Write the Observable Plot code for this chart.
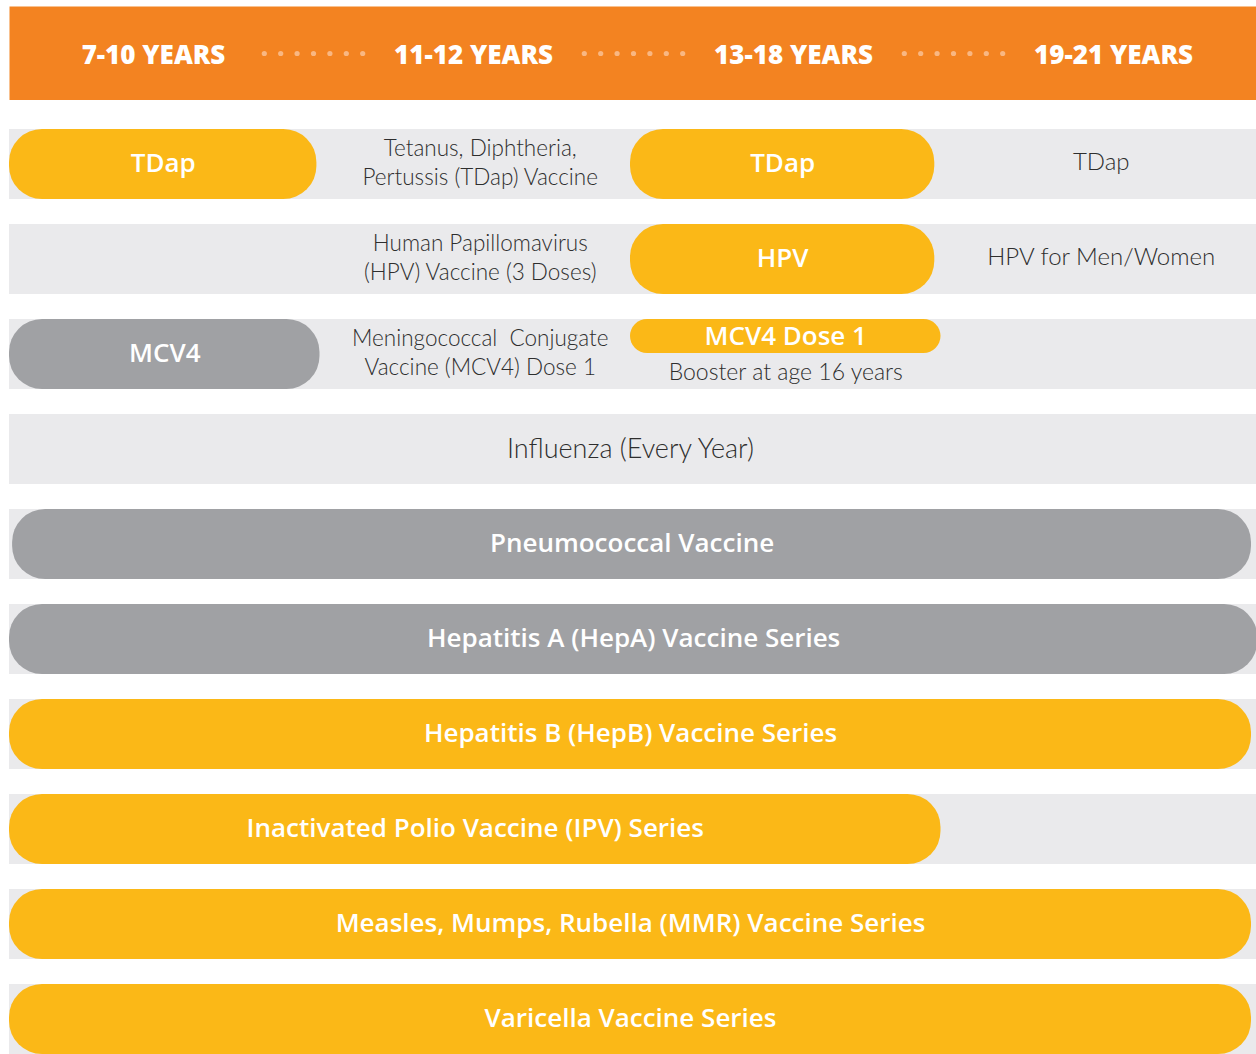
<!DOCTYPE html>
<html>
<head>
<meta charset="utf-8">
<script src="https://cdn.jsdelivr.net/npm/d3@7"></script>
<script src="https://cdn.jsdelivr.net/npm/@observablehq/plot@0.6"></script>
<style>
  html, body { margin: 0; padding: 0; background: #fff; }
  #chart svg { display: block; }
</style>
</head>
<body>
<div id="chart"></div>
<script>
// ---- data ----
const ageGroups = ["7-10 YEARS", "11-12 YEARS", "13-18 YEARS", "19-21 YEARS"];
const groupIndex = [0, 1, 2, 3];
const gapIndex = [1, 2, 3];

const vaccineRows = ["TDap", "HPV", "MCV4", "Influenza", "Pneumococcal", "HepA", "HepB", "IPV", "MMR", "Varicella"];

// pills: row, start column, end column (in age-group units), label, group
const pillRow   = ["TDap", "TDap", "HPV", "MCV4", "Pneumococcal", "HepA", "HepB", "IPV", "MMR", "Varicella"];
const pillStart = [0, 2, 2, 0, 0.01, 0, 0, 0, 0, 0];
const pillEnd   = [0.99, 2.98, 2.98, 1.0, 4.0, 4.02, 4.0, 3.0, 4.0, 4.0];
const pillLabel = ["TDap", "TDap", "HPV", "MCV4", "Pneumococcal Vaccine",
  "Hepatitis A (HepA) Vaccine Series", "Hepatitis B (HepB) Vaccine Series",
  "Inactivated Polio Vaccine (IPV) Series", "Measles, Mumps, Rubella (MMR) Vaccine Series",
  "Varicella Vaccine Series"];
const pillGroup = ["all", "all", "all", "some", "some", "some", "all", "all", "all", "all"];

// half-height dose pill
const dosePillRow = ["MCV4"];
const dosePillStart = [2];
const dosePillEnd = [3];
const dosePillLabel = ["MCV4 Dose 1"];
const boosterText = ["Booster at age 16 years"];
const boosterCol = [2.5];

// plain notes: row, column centre, text
const noteRow  = ["TDap", "HPV", "MCV4"];
const noteCol  = [1.5, 1.5, 1.5];
const noteText = ["Tetanus, Diphtheria,\nPertussis (TDap) Vaccine",
  "Human Papillomavirus\n(HPV) Vaccine (3 Doses)",
  "Meningococcal  Conjugate\nVaccine (MCV4) Dose 1"];
const laterRow  = ["TDap", "HPV"];
const laterCol  = [3.5, 3.5];
const laterText = ["TDap", "HPV for Men/Women"];
const yearlyRow = ["Influenza"];
const yearlyCol = [2];
const yearlyText = ["Influenza (Every Year)"];

// ---- tables built from arrays ----
const pills = pillRow.map((r, i) => ({row: r, start: pillStart[i], end: pillEnd[i], label: pillLabel[i], group: pillGroup[i]}));
const dosePills = dosePillRow.map((r, i) => ({row: r, start: dosePillStart[i], end: dosePillEnd[i], label: dosePillLabel[i], note: boosterText[i], col: boosterCol[i]}));
const notes = noteRow.map((r, i) => ({row: r, col: noteCol[i], text: noteText[i]}));
const later = laterRow.map((r, i) => ({row: r, col: laterCol[i], text: laterText[i]}));
const yearly = yearlyRow.map((r, i) => ({row: r, col: yearlyCol[i], text: yearlyText[i]}));
const headers = ageGroups.map((g, i) => ({label: g, col: groupIndex[i] + 0.5}));

const ORANGE = "#F38321", YELLOW = "#FBB817", GREY = "#A0A1A4", BG = "#EAEAEC", INK = "#2e2e2e";
const BOLD = "'Open Sans', sans-serif";
const LIGHT = "Lato, sans-serif";

// ---- header (column labels) ----
const header = Plot.plot({
  width: 1256, height: 100,
  marginTop: 6, marginBottom: 0, marginLeft: 9, marginRight: 0,
  x: {domain: [0, 4], range: [-7, 1273], axis: null},
  marks: [
    Plot.frame({fill: ORANGE, stroke: null}),
    ...[-3, -2, -1, 0, 1, 2, 3].map(k =>
      Plot.dot(gapIndex, {x: d => d, frameAnchor: "middle", dx: k * 16.4, r: 2.6, fill: "#F9B782", stroke: null})),
    Plot.text(headers, {x: "col", text: "label", frameAnchor: "middle", dy: 2,
      fill: "white", fontSize: 26, fontWeight: 800, fontFamily: BOLD})
  ]
});

// ---- body ----
const body = Plot.plot({
  width: 1256, height: 954,
  marginTop: 0, marginBottom: 0, marginLeft: 0, marginRight: 0,
  x: {domain: [0, 4], range: [9, 1251], axis: null},
  y: {type: "band", domain: vaccineRows, range: [27, 956], paddingInner: 0.266, paddingOuter: 0, axis: null},
  marks: [
    Plot.rect(vaccineRows, {x1: () => 0, x2: () => 4, y: d => d, insetRight: -5, fill: BG}),
    Plot.rect(pills, {x1: "start", x2: "end", y: "row", rx: 33, ry: 33,
      fill: d => d.group === "all" ? YELLOW : GREY}),
    Plot.text(pills, {x: d => (d.start + d.end) / 2, y: "row", text: "label", dy: -1,
      fill: "white", fontSize: 26, fontWeight: 600, fontFamily: BOLD}),
    Plot.rect(dosePills, {x1: "start", x2: "end", y: "row", insetBottom: 36, rx: 17, ry: 17, fill: YELLOW}),
    Plot.text(dosePills, {x: d => (d.start + d.end) / 2, y: "row", text: "label", dy: -18,
      fill: "white", fontSize: 26, fontWeight: 600, fontFamily: BOLD}),
    Plot.text(dosePills, {x: "col", y: "row", text: "note", dy: 18,
      fill: INK, fontSize: 23, fontWeight: 300, fontFamily: LIGHT}),
    Plot.text(notes, {x: "col", y: "row", text: "text", dx: 5, dy: -3, lineHeight: 1.25,
      fill: INK, fontSize: 22.5, fontWeight: 300, fontFamily: LIGHT}),
    Plot.text(later, {x: "col", y: "row", text: "text", dx: 5, dy: -2,
      fill: INK, fontSize: 24, fontWeight: 300, fontFamily: LIGHT}),
    Plot.text(yearly, {x: "col", y: "row", text: "text",
      fill: INK, fontSize: 27, fontWeight: 300, fontFamily: LIGHT})
  ]
});

const el = document.getElementById("chart");
el.appendChild(header);
el.appendChild(body);
</script>
</body>
</html>
